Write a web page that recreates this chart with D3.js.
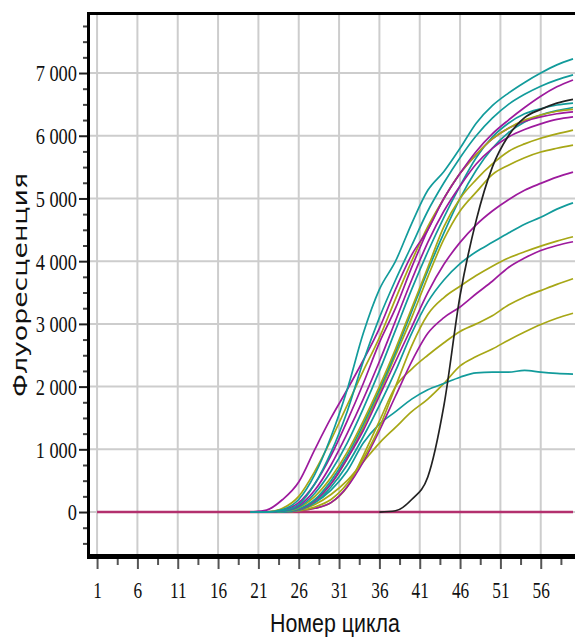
<!DOCTYPE html>
<html>
<head>
<meta charset="utf-8">
<script src="https://cdn.jsdelivr.net/npm/d3@7"></script>
<style>
  html, body { margin: 0; padding: 0; background: #ffffff; }
  svg { display: block; }
</style>
</head>
<body>
<svg id="chart" width="575" height="639"></svg>
<script>
// Amplification curves: fluorescence per PCR cycle
const cycles = [20, 22, 24, 26, 28, 30, 32, 34, 36, 38, 40, 42, 44, 46, 48, 50, 52, 54, 56, 58, 60];

const tealA    = [0, 0, 40, 200, 600, 1200, 1950, 2850, 3550, 4000, 4600, 5130, 5430, 5800, 6200, 6480, 6680, 6850, 7000, 7130, 7225];
const tealB    = [0, 0, 20, 120, 450, 950, 1600, 2400, 3100, 3700, 4250, 4800, 5250, 5650, 6000, 6280, 6500, 6660, 6790, 6890, 6970];
const magentaA = [0, 30, 200, 480, 1000, 1500, 1950, 2420, 2930, 3550, 4100, 4500, 5000, 5400, 5750, 6030, 6250, 6450, 6630, 6780, 6890];
const oliveA   = [0, 0, 60, 250, 650, 1150, 1700, 2250, 2780, 3400, 4000, 4550, 5000, 5400, 5700, 5950, 6120, 6250, 6330, 6390, 6420];
const magentaB = [0, 0, 30, 150, 450, 900, 1450, 2050, 2700, 3250, 3900, 4500, 5000, 5400, 5700, 5950, 6120, 6230, 6300, 6350, 6380];
const magentaC = [0, 0, 20, 100, 350, 750, 1250, 1800, 2400, 3050, 3700, 4300, 4800, 5200, 5550, 5800, 5980, 6100, 6190, 6260, 6300];
const tealC    = [0, 0, 10, 80, 300, 650, 1100, 1650, 2250, 2900, 3550, 4150, 4700, 5200, 5650, 5980, 6200, 6350, 6430, 6490, 6520];
const oliveB   = [0, 0, 10, 70, 250, 550, 950, 1450, 2000, 2600, 3250, 3900, 4550, 5000, 5300, 5550, 5750, 5870, 5960, 6030, 6090];
const tealD    = [0, 0, 0, 50, 200, 500, 900, 1400, 1950, 2550, 3200, 3850, 4450, 5000, 5450, 5800, 6050, 6220, 6330, 6400, 6450];
const magentaD = [0, 0, 0, 40, 180, 450, 850, 1300, 1850, 2400, 2950, 3500, 3950, 4300, 4580, 4800, 4980, 5130, 5240, 5340, 5420];
const tealE    = [0, 0, 0, 30, 150, 400, 750, 1200, 1700, 2250, 2850, 3350, 3700, 3960, 4150, 4300, 4450, 4590, 4700, 4830, 4930];
const oliveC   = [0, 0, 0, 40, 180, 450, 850, 1350, 1900, 2500, 3100, 3750, 4350, 4800, 5100, 5380, 5530, 5650, 5740, 5800, 5850];
const oliveD   = [0, 0, 0, 20, 80, 200, 450, 850, 1350, 2000, 2650, 3150, 3420, 3600, 3770, 3920, 4050, 4150, 4240, 4320, 4390];
const magentaE = [0, 0, 0, 20, 60, 150, 400, 800, 1300, 1850, 2400, 2850, 3100, 3270, 3480, 3680, 3900, 4050, 4170, 4250, 4310];
const oliveE   = [0, 0, 0, 20, 60, 150, 400, 900, 1450, 2000, 2280, 2500, 2700, 2880, 3000, 3130, 3300, 3430, 3530, 3630, 3720];
const oliveF   = [0, 0, 0, 30, 120, 280, 500, 800, 1100, 1350, 1600, 1800, 2050, 2330, 2480, 2600, 2740, 2870, 2990, 3090, 3170];
const tealF    = [0, 0, 0, 40, 150, 350, 650, 1100, 1400, 1600, 1800, 1950, 2050, 2150, 2220, 2230, 2230, 2260, 2230, 2210, 2200];
const blackLate = [null, null, null, null, null, null, null, null, 0, 20, 200, 560, 1700, 3450, 4650, 5500, 6000, 6290, 6420, 6520, 6580];

// Flat negative-control trace over the whole run
const baselineCycles = [1, 60];
const baselineValues = [0, 0];

const xTickCycles = [1, 6, 11, 16, 21, 26, 31, 36, 41, 46, 51, 56];
const xMinorCycles = [3.5, 8.5, 13.5, 18.5, 23.5, 28.5, 33.5, 38.5, 43.5, 48.5, 53.5, 58.5];
const yTickValues = [0, 1000, 2000, 3000, 4000, 5000, 6000, 7000];
const yMinorValues = d3.range(-500, 7751, 250).filter(v => v % 1000 !== 0);

const xTitle = "Номер цикла";
const yTitle = "Флуоресценция";

const TEAL = "#129b9b", MAGENTA = "#9d1a9d", OLIVE = "#a7a716", BLACK = "#222222", CRIMSON = "#b3306e";

const series = [
  { values: oliveF, color: OLIVE },
  { values: tealF, color: TEAL },
  { values: oliveE, color: OLIVE },
  { values: magentaE, color: MAGENTA },
  { values: oliveD, color: OLIVE },
  { values: tealE, color: TEAL },
  { values: oliveC, color: OLIVE },
  { values: magentaD, color: MAGENTA },
  { values: tealD, color: TEAL },
  { values: oliveB, color: OLIVE },
  { values: tealC, color: TEAL },
  { values: magentaC, color: MAGENTA },
  { values: magentaB, color: MAGENTA },
  { values: oliveA, color: OLIVE },
  { values: magentaA, color: MAGENTA },
  { values: tealB, color: TEAL },
  { values: tealA, color: TEAL },
  { values: blackLate, color: BLACK }
];

const svg = d3.select("#chart");
const W = 575;

const x = d3.scaleLinear().domain([0, 60]).range([89, 573]);
const y = d3.scaleLinear().domain([-717, 7957]).range([557, 13]);

const plotLeft = x(0), plotTop = y(7957), plotBottom = y(-717);

// grid
const grid = svg.append("g");
grid.selectAll("line.gx").data(xTickCycles).join("line")
  .attr("x1", d => x(d)).attr("x2", d => x(d))
  .attr("y1", plotTop).attr("y2", plotBottom)
  .attr("stroke", "#cdcdcd").attr("stroke-width", 2);
grid.selectAll("line.gy").data(yTickValues).join("line")
  .attr("x1", plotLeft).attr("x2", W + 5)
  .attr("y1", d => y(d)).attr("y2", d => y(d))
  .attr("stroke", "#cdcdcd").attr("stroke-width", 2);

// baseline trace
const line = d3.line()
  .defined(d => d[1] !== null)
  .x(d => x(d[0])).y(d => y(d[1]))
  .curve(d3.curveMonotoneX);

svg.append("path")
  .datum(baselineCycles.map((c, i) => [c, baselineValues[i]]))
  .attr("d", line)
  .attr("fill", "none").attr("stroke", CRIMSON).attr("stroke-width", 2.4);

// curves
svg.append("g").selectAll("path").data(series).join("path")
  .attr("d", s => line(cycles.map((c, i) => [c, s.values[i]])))
  .attr("fill", "none")
  .attr("stroke", s => s.color)
  .attr("stroke-width", 1.7)
  .attr("stroke-linejoin", "round");

// frame
svg.append("line").attr("x1", plotLeft - 0.5).attr("x2", W + 5)
  .attr("y1", plotTop + 0.5).attr("y2", plotTop + 0.5)
  .attr("stroke", "#000").attr("stroke-width", 3);
svg.append("line").attr("x1", plotLeft - 0.5).attr("x2", plotLeft - 0.5)
  .attr("y1", plotTop - 1).attr("y2", plotBottom)
  .attr("stroke", "#000").attr("stroke-width", 3);
svg.append("line").attr("x1", plotLeft - 2).attr("x2", W + 5)
  .attr("y1", plotBottom - 0.5).attr("y2", plotBottom - 0.5)
  .attr("stroke", "#000").attr("stroke-width", 5);

const fmt = v => d3.format(",")(v).replace(/,/g, " ");

// y axis
const yAxisG = svg.append("g").attr("transform", `translate(${plotLeft - 2},0)`);
yAxisG.call(d3.axisLeft(y).tickValues(yMinorValues).tickSize(4).tickFormat(""))
  .call(g => g.select(".domain").remove())
  .call(g => g.selectAll("line").attr("stroke", "#444").attr("stroke-width", 2));
const yMajor = svg.append("g").attr("transform", `translate(${plotLeft - 2},0)`);
yMajor.call(d3.axisLeft(y).tickValues(yTickValues).tickSize(8).tickFormat(fmt))
  .call(g => g.select(".domain").remove())
  .call(g => g.selectAll("line").attr("stroke", "#222").attr("stroke-width", 2))
  .call(g => g.selectAll("text")
    .attr("x", 0).attr("dy", "0.34em")
    .attr("transform", "translate(-10,0) scale(0.8,1)")
    .attr("fill", "#111")
    .style("font-family", "'Liberation Serif', serif")
    .style("font-size", "23px"));

// x axis
const xAxisY = plotBottom + 2;
svg.append("g").attr("transform", `translate(0,${xAxisY})`)
  .call(d3.axisBottom(x).tickValues(xMinorCycles).tickSize(6).tickFormat(""))
  .call(g => g.select(".domain").remove())
  .call(g => g.selectAll("line").attr("stroke", "#555").attr("stroke-width", 2));
svg.append("g").attr("transform", `translate(0,${xAxisY})`)
  .call(d3.axisBottom(x).tickValues(xTickCycles).tickSize(10).tickFormat(d3.format("d")))
  .call(g => g.select(".domain").remove())
  .call(g => g.selectAll("line").attr("stroke", "#555").attr("stroke-width", 2))
  .call(g => g.selectAll("text")
    .attr("x", 0).attr("y", 39).attr("dy", 0)
    .attr("transform", "scale(0.72,1)")
    .attr("fill", "#111")
    .style("font-family", "'Liberation Serif', serif")
    .style("font-size", "24px"));

// titles
svg.append("text")
  .attr("x", 335).attr("y", 632)
  .attr("text-anchor", "middle")
  .attr("textLength", 130).attr("lengthAdjust", "spacingAndGlyphs")
  .style("font-family", "'Liberation Sans', sans-serif")
  .style("font-size", "25px")
  .attr("fill", "#111")
  .text(xTitle);

svg.append("text")
  .attr("transform", "translate(27,285) rotate(-90)")
  .attr("text-anchor", "middle")
  .attr("textLength", 224).attr("lengthAdjust", "spacingAndGlyphs")
  .style("font-family", "'DejaVu Sans', sans-serif")
  .style("font-size", "20px")
  .attr("fill", "#111")
  .text(yTitle);
</script>
</body>
</html>
